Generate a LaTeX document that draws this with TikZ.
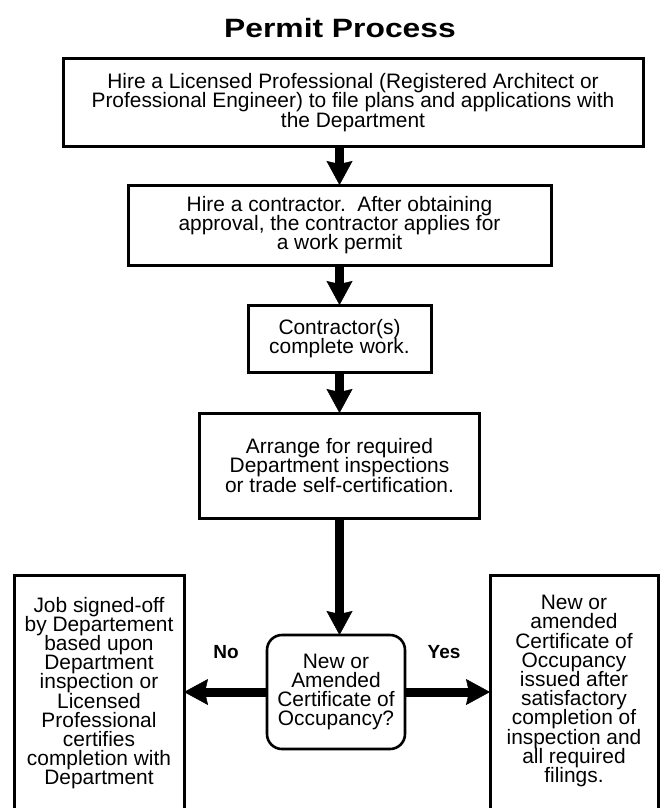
\documentclass[tikz,border=0pt]{standalone}
\usepackage{fontspec}
\setmainfont{Liberation Sans}
\usetikzlibrary{arrows.meta}
\newcommand{\boxfont}{\fontsize{20.9}{19.2}\selectfont\lineskiplimit=-40pt\lineskip=0pt}
\tikzset{
  stepbox/.style={draw, line width=3pt, inner sep=0pt, outer sep=0pt, align=center,
    font=\boxfont},
  decbox/.style={draw, line width=2.6pt, rounded corners=15pt, inner sep=0pt, outer sep=0pt},
  txt/.style={align=center, inner sep=0pt, font=\boxfont},
  bigarrow/.style={line width=9pt, -{Stealth[length=24pt, width=26pt, inset=3pt, line width=0.5pt]}},
  lbl/.style={font=\bfseries\fontsize{19}{19}\selectfont, inner sep=0pt}
}
\begin{document}
\begin{tikzpicture}[x=1pt,y=-1pt]
\useasboundingbox (0,0) rectangle (661,808);
\clip (0,0) rectangle (661,808);
\node[inner sep=0pt, font=\bfseries\fontsize{26.5}{28}\selectfont] (title) at (340,28)
  {\scalebox{1.2}[1]{Permit Process}};
\node[stepbox, minimum width=580pt, minimum height=87pt] (b1) at (353,102.5)
  {Hire a Licensed Professional (Registered Architect or\\
   Professional Engineer) to file plans and applications with\\
   the Department};
\node[stepbox, minimum width=423pt, minimum height=80pt] (b2) at (339.5,225)
  {Hire a contractor.\ \ After obtaining\\
   approval, the contractor applies for\\
   a work permit};
\node[stepbox, minimum width=183pt, minimum height=67pt] (b3) at (339.5,338.5)
  {Contractor(s)\\complete work.};
\node[stepbox, minimum width=280pt, minimum height=105pt] (b4) at (339.5,465.5)
  {Arrange for required\\Department inspections\\or trade self-certification.};
\node[decbox, minimum width=138pt, minimum height=114pt] (dec) at (336,692) {};
\node[txt] (dect) at (336,692) {New or\\Amended\\Certificate of\\Occupancy?};
\node[stepbox, minimum width=170pt, minimum height=265pt] (lb) at (99,707.5) {};
\node[txt] (lbt) at (99,693)
  {Job signed-off\\by Departement\\based upon\\Department\\inspection or\\Licensed\\Professional\\certifies\\completion with\\Department};
\node[stepbox, minimum width=168pt, minimum height=265pt] (rb) at (574,707.5) {};
\node[txt] (rbt) at (574,691)
  {New or\\amended\\Certificate of\\Occupancy\\issued after\\satisfactory\\completion of\\inspection and\\all required\\filings.};
\node[lbl] (no) at (226,652) {No};
\node[lbl] (yes) at (444,652) {Yes};
\draw[bigarrow] (b1.south -| b2.north) -- (b2.north);
\draw[bigarrow] (b2.south) -- (b3.north);
\draw[bigarrow] (b3.south) -- (b4.north);
\draw[bigarrow] (b4.south) -- (b4.south |- dec.north);
\draw[bigarrow] (dec.west) -- (dec.west -| lb.east);
\draw[bigarrow] (dec.east) -- (dec.east -| rb.west);
\end{tikzpicture}
\end{document}
